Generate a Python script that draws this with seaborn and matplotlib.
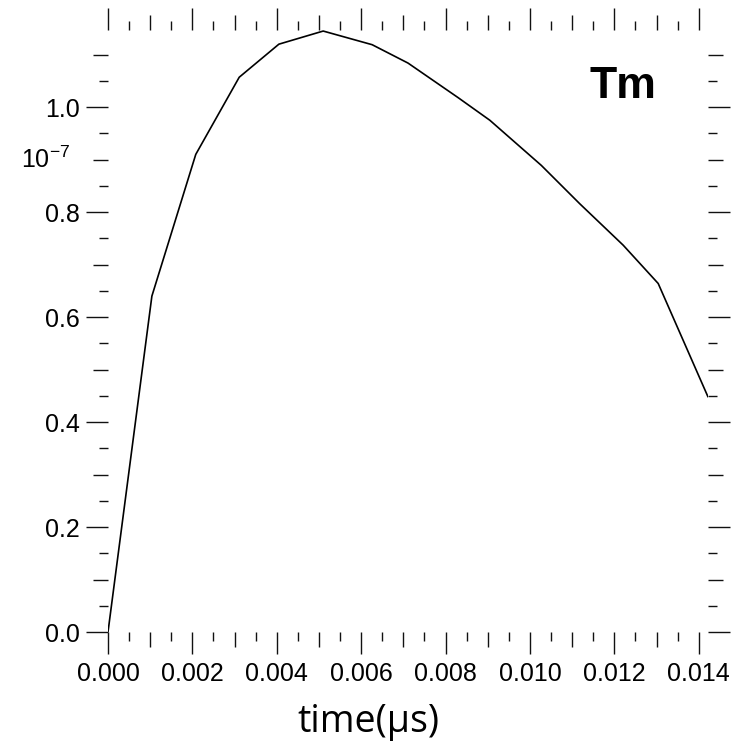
import numpy as np
import pandas as pd
import matplotlib
matplotlib.use("Agg")
import matplotlib.pyplot as plt
from matplotlib.ticker import MultipleLocator, FixedLocator, FormatStrFormatter
import seaborn as sns

# ---- data ----
time_us = [0.0, 0.00104, 0.00208, 0.00311, 0.00405, 0.0051, 0.00626, 0.00711,
           0.0083, 0.00905, 0.01027, 0.01118, 0.01221, 0.01304, 0.01422]
tm_values = [0.0, 0.64, 0.91, 1.057, 1.12, 1.145, 1.119, 1.084,
             1.018, 0.975, 0.889, 0.816, 0.737, 0.664, 0.448]
x_major = 0.002
y_major = 0.2
series_label = "Tm"
x_label = "time(\u03bcs)"
scale_label = "$10^{-7}$"

df = pd.DataFrame({"time": time_us, "value": tm_values})

sns.set_style("ticks")
plt.rcParams["font.family"] = ["Liberation Sans", "DejaVu Sans"]
plt.rcParams["mathtext.fontset"] = "custom"
plt.rcParams["mathtext.rm"] = "Liberation Sans"
plt.rcParams["mathtext.it"] = "Liberation Sans"
plt.rcParams["text.color"] = "black"

fig = plt.figure(figsize=(7.35, 7.46), dpi=100)
pos = [108 / 735, (746 - 632) / 746, 600 / 735, (632 - 30) / 746]
ax = fig.add_axes(pos)

sns.lineplot(data=df, x="time", y="value", ax=ax, color="black", linewidth=1.2)

xmax = time_us[-1]
ymax = max(tm_values) + 0.002
ax.set_xlim(0, xmax)
ax.set_ylim(0, ymax)

for s in ax.spines.values():
    s.set_visible(False)

ax.xaxis.set_major_locator(MultipleLocator(x_major))
ax.xaxis.set_minor_locator(MultipleLocator(x_major / 2))
ax.yaxis.set_major_locator(MultipleLocator(y_major))
ax.yaxis.set_minor_locator(MultipleLocator(y_major / 2))
ax.xaxis.set_major_formatter(FormatStrFormatter("%.3f"))
ax.yaxis.set_major_formatter(FormatStrFormatter("%.1f"))

tick_col = "#111111"
ax.tick_params(axis="both", which="major", direction="out", length=16, width=1.0,
               colors=tick_col, labelcolor="black", labelsize=18,
               top=True, right=True, labeltop=False, labelright=False)
ax.tick_params(axis="both", which="minor", direction="out", length=10.5, width=1.0,
               colors=tick_col, top=True, right=True)
ax.tick_params(axis="y", which="major", pad=4)
ax.tick_params(axis="x", which="major", pad=5.5)

# third level (smallest) ticks on an independent overlay axes
ax3 = fig.add_axes(pos, frameon=False)
ax3.patch.set_visible(False)
ax3.set_xlim(0, xmax)
ax3.set_ylim(0, ymax)
ax3.xaxis.set_major_locator(FixedLocator(np.arange(x_major / 4, xmax, x_major / 2)))
ax3.yaxis.set_major_locator(FixedLocator(np.arange(y_major / 4, ymax, y_major / 2)))
ax3.xaxis.set_minor_locator(FixedLocator([]))
ax3.yaxis.set_minor_locator(FixedLocator([]))
ax3.tick_params(axis="both", which="major", direction="out", length=6.3, width=1.0,
                colors=tick_col, top=True, right=True, bottom=True, left=True,
                labelbottom=False, labelleft=False, labeltop=False, labelright=False)

ax.set_xlabel("")
ax.set_ylabel("")

fig.text(368 / 735, 1 - 722 / 746, x_label, ha="center", va="center",
         fontsize=27, family=["Open Sans", "DejaVu Sans"], color="black")
fig.text(623 / 735, 1 - 86 / 746, series_label, ha="center", va="center",
         fontsize=32, fontweight="bold", color="black")
fig.text(70 / 735, 1 - 160 / 746, scale_label, ha="right", va="center",
         fontsize=18, color="black")

fig.savefig("out.png", dpi=100)
